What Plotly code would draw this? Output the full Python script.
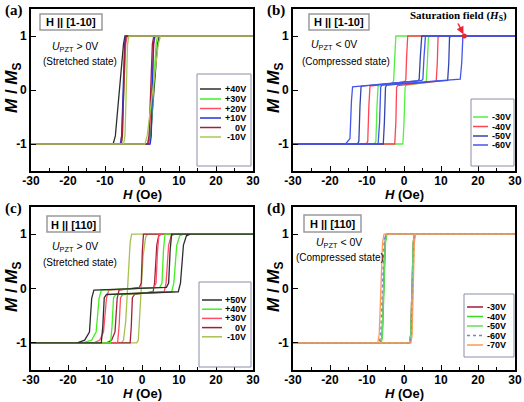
import plotly.graph_objects as go

W, H = 524, 402

# ---------------- data (H in Oe, M/Ms) ----------------
# Panel (a): H || [1-10], U_PZT > 0V
a_labels = ["+40V", "+30V", "+20V", "+10V", "0V", "-10V"]
a_colors = ["#2e2e2e", "#44ee22", "#ff4d66", "#2233dd", "#a0203a", "#a8c858"]
a_M = [1, 1, 0.85, -0.85, -1, -1, -1, -0.85, 0.85, 1, 1]
a_H_p40 = [30, -4.6, -5.0, -7.2, -7.8, -30, 1.8, 2.3, 4.2, 4.7, 30]
a_H_p30 = [30, -4.2, -4.5, -5.3, -5.6, -30, 2.0, 2.4, 3.8, 4.2, 30]
a_H_p20 = [30, -4.0, -4.4, -5.5, -5.9, -30, 1.6, 2.0, 3.2, 3.6, 30]
a_H_p10 = [30, -4.4, -4.7, -5.5, -5.8, -30, 2.2, 2.5, 3.1, 3.4, 30]
a_H_0 = [30, -4.3, -4.6, -5.3, -5.6, -30, 1.5, 1.9, 2.8, 3.2, 30]
a_H_m10 = [30, -3.5, -3.9, -4.6, -5.0, -30, 0.8, 1.4, 4.4, 5.0, 30]

# Panel (b): H || [1-10], U_PZT < 0V
b_labels = ["-30V", "-40V", "-50V", "-60V"]
b_colors = ["#55ee44", "#ff4455", "#3344aa", "#4455ee"]
b_H_m30 = [30, -2.2, -2.5, -2.8, -3.2, -7.0, -7.3, -7.6, -8.0, -30,
           -0.3, 0.0, 0.3, 0.6, 6.0, 6.3, 6.6, 7.0, 30]
b_M_m30 = [1, 1, 0.6, 0.17, 0.12, 0.07, -0.3, -0.95, -1, -1,
           -1, -0.6, 0.05, 0.09, 0.14, 0.5, 0.97, 1, 1]
b_H_m40 = [30, 1.0, 0.7, 0.5, 0.2, -9.2, -9.5, -9.8, -10.2, -30,
           -2.5, -2.2, -2.0, -1.7, 8.7, 9.0, 9.2, 9.6, 30]
b_M_m40 = [1, 1, 0.6, 0.2, 0.15, 0.07, -0.3, -0.95, -1, -1,
           -1, -0.6, 0.05, 0.08, 0.16, 0.5, 0.97, 1, 1]
b_H_m50 = [30, 4.8, 4.4, 4.1, 3.8, -11.6, -11.9, -12.2, -12.6, -30,
           -5.6, -5.3, -5.0, -4.7, 11.8, 12.1, 12.3, 12.7, 30]
b_M_m50 = [1, 1, 0.6, 0.2, 0.17, 0.07, -0.3, -0.95, -1, -1,
           -1, -0.6, 0.05, 0.09, 0.18, 0.5, 0.97, 1, 1]
b_H_m60 = [30, 5.8, 5.4, 5.1, 4.8, -13.9, -14.2, -14.6, -15.8, -30,
           -7.0, -6.6, -6.3, -6.0, 15.2, 15.6, 15.9, 16.3, 30]
b_M_m60 = [1, 1, 0.6, 0.2, 0.18, 0.06, -0.2, -0.9, -1, -1,
           -1, -0.6, 0.05, 0.09, 0.2, 0.5, 0.97, 1, 1]
b_Hs = [16.3]
b_Hs_M = [1]

# Panel (c): H || [110], U_PZT > 0V
c_labels = ["+50V", "+40V", "+30V", "0V", "-10V"]
c_colors = ["#2e2e2e", "#44ee22", "#ff4d66", "#a0203a", "#a8c050"]
c_M_step = [1, 1, 0.7, 0.1, 0.02, -0.03, -0.18, -0.8, -0.95, -1, -1,
            -1, -0.7, -0.17, -0.11, -0.06, 0.1, 0.8, 0.97, 1, 1]
c_H_p50 = [30, 8.0, 7.6, 7.2, 6.6, -13.0, -13.6, -14.2, -15.5, -17.5, -30,
           -11.0, -10.6, -10.2, -9.6, 9.8, 10.4, 11.2, 12.0, 13.0, 30]
c_H_p40 = [30, 6.2, 5.8, 5.4, 4.8, -11.0, -11.6, -12.4, -13.6, -16.0, -30,
           -8.5, -8.1, -7.7, -7.1, 8.0, 8.6, 9.4, 10.2, 11.2, 30]
c_H_p30 = [30, 4.6, 4.2, 3.8, 3.2, -9.0, -9.6, -10.4, -11.4, -13.0, -30,
           -6.6, -6.2, -5.8, -5.2, 6.0, 6.5, 7.2, 7.9, 8.8, 30]
c_H_0 = [30, 0.4, 0.1, -0.2, -0.7, -6.2, -6.7, -7.3, -8.2, -9.5, -30,
         -3.2, -2.9, -2.6, -2.0, 3.0, 3.4, 4.0, 4.5, 5.2, 30]
c_H_m10 = [30, -2.8, -3.2, -3.8, -4.4, -5.0, -5.6, -30,
           -1.4, -1.0, -0.4, 0.3, 1.0, 1.6, 30]
c_M_m10 = [1, 1, 0.85, 0.2, -0.6, -0.95, -1, -1,
           -1, -0.95, -0.2, 0.6, 0.95, 1, 1]

# Panel (d): H || [110], U_PZT < 0V
d_labels = ["-30V", "-40V", "-50V", "-60V", "-70V"]
d_colors = ["#a01c3c", "#33dd22", "#66dd66", "#7b7fd8", "#ff9955"]
d_M = [1, 1, 0.85, -0.85, -1, -1, -1, -0.85, 0.85, 1, 1]
d_H_m30 = [30, -4.8, -5.1, -5.9, -6.3, -30, 1.5, 1.8, 2.5, 2.8, 30]
d_H_m40 = [30, -4.6, -5.0, -5.8, -6.1, -30, 1.6, 1.9, 2.6, 2.9, 30]
d_H_m50 = [30, -4.7, -5.1, -5.9, -6.2, -30, 1.5, 1.8, 2.5, 2.8, 30]
d_H_m60 = [30, -5.0, -5.4, -6.3, -6.7, -30, 1.7, 2.0, 2.7, 3.0, 30]
d_H_m70 = [30, -5.4, -5.8, -6.7, -7.1, -30, 1.9, 2.2, 2.8, 3.1, 30]

x_ticks = [-30, -20, -10, 0, 10, 20, 30]
x_minor = [-25, -15, -5, 5, 15, 25]
y_ticks = [-1, 0, 1]

# ---------------- figure ----------------
def pxx(x):
    return x / W

def pxy(y):
    return 1 - y / H

FONT = "Liberation Sans, Arial, sans-serif"
SERIF = "Liberation Serif, Times New Roman, serif"

fig = go.Figure()

panels = [
    ("x", "y", [a_H_p40, a_H_p30, a_H_p20, a_H_p10, a_H_0, a_H_m10],
     [a_M] * 6, a_labels, a_colors, ["solid"] * 6),
    ("x2", "y2", [b_H_m30, b_H_m40, b_H_m50, b_H_m60],
     [b_M_m30, b_M_m40, b_M_m50, b_M_m60], b_labels, b_colors, ["solid"] * 4),
    ("x3", "y3", [c_H_m10, c_H_0, c_H_p30, c_H_p40, c_H_p50],
     [c_M_m10, c_M_step, c_M_step, c_M_step, c_M_step],
     c_labels[::-1], c_colors[::-1], ["solid"] * 5),
    ("x4", "y4", [d_H_m30, d_H_m40, d_H_m50, d_H_m60, d_H_m70],
     [d_M] * 5, d_labels, d_colors, ["solid", "solid", "solid", "dot", "solid"]),
]

for xa, ya, Hs, Ms, labels, colors, dashes in panels:
    for h, m, lab, col, dash in zip(Hs, Ms, labels, colors, dashes):
        fig.add_trace(go.Scatter(x=h, y=m, mode="lines", name=lab,
                                 line=dict(color=col, width=1.3, dash=dash),
                                 xaxis=xa, yaxis=ya, showlegend=False,
                                 hoverinfo="skip"))

# saturation point
fig.add_trace(go.Scatter(x=b_Hs, y=b_Hs_M, mode="markers",
                         marker=dict(color="#ee2233", size=5),
                         xaxis="x2", yaxis="y2", showlegend=False))

doms = {
    "": ([pxx(31), pxx(253)], [pxy(171), pxy(9)]),
    "2": ([pxx(293), pxx(515)], [pxy(171), pxy(9)]),
    "3": ([pxx(31), pxx(253)], [pxy(370), pxy(207)]),
    "4": ([pxx(293), pxx(515)], [pxy(370), pxy(207)]),
}

layout = dict(width=W, height=H, margin=dict(l=0, r=0, t=0, b=0, autoexpand=False),
              paper_bgcolor="white", plot_bgcolor="white", showlegend=False)

for k, (xd, yd) in doms.items():
    layout["xaxis" + k] = dict(
        domain=xd, range=[-30, 30], anchor="y" + k,
        tickvals=x_ticks, ticktext=["<b>%d</b>" % v for v in x_ticks],
        ticks="inside", ticklen=5, tickwidth=1.3, tickcolor="black",
        ticklabelstandoff=-2,
        minor=dict(tickvals=x_minor, ticks="inside", ticklen=3,
                   tickwidth=1.2, tickcolor="black"),
        showline=True, linecolor="black", linewidth=1.6, mirror=True,
        showgrid=False, zeroline=False, automargin=False,
        tickfont=dict(family=FONT, size=12, color="black"))
    layout["yaxis" + k] = dict(
        domain=yd, range=[-1.5, 1.5], anchor="x" + k,
        tickvals=y_ticks, ticktext=["<b>%d</b>" % v for v in y_ticks],
        ticks="inside", ticklen=5, tickwidth=1.3, tickcolor="black",
        showline=True, linecolor="black", linewidth=1.6, mirror=True,
        showgrid=False, zeroline=False, automargin=False,
        tickfont=dict(family=FONT, size=12, color="black"))

annotations = []
shapes = []

def txt(x, y, text, size=11, family=FONT, xanchor="center", color="black",
        angle=0):
    annotations.append(dict(x=pxx(x), y=pxy(y), xref="paper", yref="paper",
                            text=text, showarrow=False, xanchor=xanchor,
                            yanchor="middle", textangle=angle,
                            font=dict(family=family, size=size, color=color)))

def rect(x0, y0, x1, y1, color="#9a9a9a", width=1.5):
    shapes.append(dict(type="rect", xref="paper", yref="paper",
                       x0=pxx(x0), x1=pxx(x1), y0=pxy(y1), y1=pxy(y0),
                       line=dict(color=color, width=width),
                       fillcolor="white", layer="above"))

def hline(x0, x1, y, color, dash="solid"):
    shapes.append(dict(type="line", xref="paper", yref="paper",
                       x0=pxx(x0), x1=pxx(x1), y0=pxy(y), y1=pxy(y),
                       line=dict(color=color, width=1.5, dash=dash),
                       layer="above"))

# panel letters
for x, y, t in [(3, 10, "(a)"), (265, 10, "(b)"), (3, 208, "(c)"), (265, 208, "(d)")]:
    txt(x, y, "<b>%s</b>" % t, size=15, family=SERIF, xanchor="left")

# axis titles
ytitle = "<b><i>M</i> / <i>M</i><sub>S</sub></b>"
xtitle = "<b><i>H</i> (Oe)</b>"
for x, y in [(13, 88), (275, 88), (13, 287), (275, 287)]:
    txt(x, y, ytitle, size=17, angle=-90)
for x, y in [(142, 194), (404, 194), (142, 393), (404, 393)]:
    txt(x, y, xtitle, size=13)

# direction boxes
for (x0, y0, x1, y1), t in [((40, 14, 102, 30), "H || [1-10]"),
                            ((309, 14, 369, 30), "H || [1-10]"),
                            ((47, 216, 100, 232), "H || [110]"),
                            ((304, 215, 361, 232), "H || [110]")]:
    rect(x0, y0, x1, y1)
    txt((x0 + x1) / 2, (y0 + y1) / 2 + 0.5, "<b>%s</b>" % t, size=11)

# state texts
upos = "<i>U</i><sub>PZT</sub> > 0V"
uneg = "<i>U</i><sub>PZT</sub> < 0V"
txt(75, 47, upos, size=10.5)
txt(80, 62, "(Stretched state)", size=10)
txt(334, 45, uneg, size=10.5)
txt(346, 62, "(Compressed state)", size=10)
txt(75, 247, upos, size=10.5)
txt(80, 262, "(Stretched state)", size=10)
txt(339, 243, uneg, size=10.5)
txt(340, 257, "(Compressed state)", size=10)

# saturation field label + arrow
txt(458, 16, "<b>Saturation field (<i>H</i><sub>S</sub>)</b>", size=11, family=SERIF)
annotations.append(dict(x=b_Hs[0], y=b_Hs_M[0], xref="x2", yref="y2",
                        ax=-7, ay=-14, axref="pixel", ayref="pixel",
                        text="", showarrow=True, arrowhead=2, arrowsize=1,
                        arrowwidth=1.5, arrowcolor="#ee2233", standoff=2))

# legends
def legend(box, ys, lx0, lx1, tx, anchor, labels, colors, dashes):
    rect(*box, color="#8a8fa8", width=1)
    for y, lab, col, dash in zip(ys, labels, colors, dashes):
        hline(lx0, lx1, y, col, dash)
        txt(tx, y, "<b>%s</b>" % lab, size=9, xanchor=anchor)

legend((197, 74, 251, 166), [89, 99, 108.5, 118, 127.5, 137], 200, 221, 248, "right",
       a_labels, a_colors, ["solid"] * 6)
legend((471, 99, 514, 166), [117, 126.5, 136, 145], 473, 488, 490, "left",
       b_labels, b_colors, ["solid"] * 4)
legend((199, 282, 251, 367), [300, 309.2, 318.4, 327.6, 336.8], 202, 222, 248, "right",
       c_labels, c_colors, ["solid"] * 5)
legend((464, 294, 514, 357), [307, 316.5, 326, 335.5, 345], 467, 483, 485, "left",
       d_labels, d_colors, ["solid", "solid", "solid", "dot", "solid"])

layout["annotations"] = annotations
layout["shapes"] = shapes
fig.update_layout(**layout)
fig.write_html("out.html", config={"displayModeBar": False},
               post_script="document.body.style.margin='0px';")
